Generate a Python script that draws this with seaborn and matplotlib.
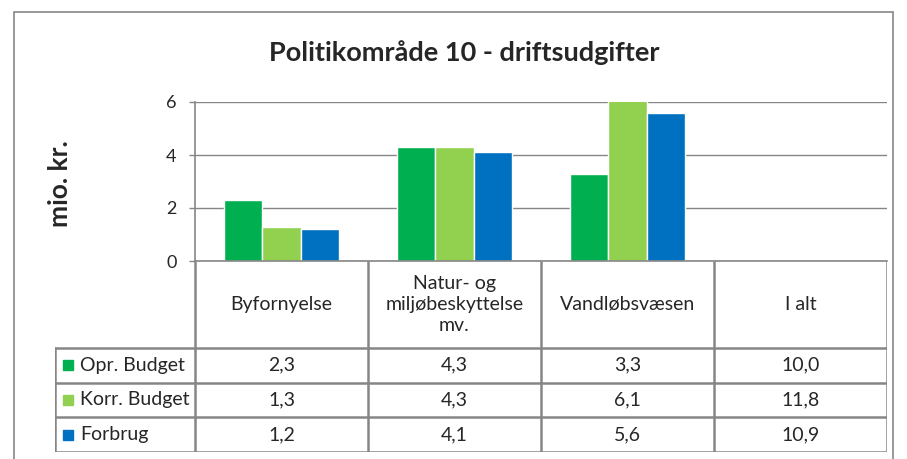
import pandas as pd
import seaborn as sns
from matplotlib import pyplot as plt
from matplotlib.patches import Rectangle

# Data
categories = ['Byfornyelse', 'Natur- og\nmiljøbeskyttelse\nmv.', 'Vandløbsvæsen', 'I alt']
series = ['Opr. Budget', 'Korr. Budget', 'Forbrug']
opr_budget = [2.3, 4.3, 3.3, 10.0]
korr_budget = [1.3, 4.3, 6.1, 11.8]
forbrug = [1.2, 4.1, 5.6, 10.9]
colors = ['#00B050', '#92D050', '#0070C0']
y_ticks = [0, 2, 4, 6]

values = [opr_budget, korr_budget, forbrug]
rows = []
for s, vals in zip(series, values):
    for c, v in zip(categories[:3], vals[:3]):   # 'I alt' only appears in the table
        rows.append({'category': c, 'series': s, 'value': v})
df = pd.DataFrame(rows)

sns.set_style('white')
plt.rcParams['font.family'] = ['Lato', 'DejaVu Sans']
line_col = '#868686'

W, H = 907, 459
fig = plt.figure(figsize=(W / 100, H / 100), dpi=100)

# outer chart frame
fig.patches.append(Rectangle((14 / W, -0.1), 879 / W, 1.1 - 12 / H, transform=fig.transFigure,
                             fill=False, edgecolor=line_col, linewidth=1.2))

# Chart
ax = fig.add_axes([195 / W, 1 - 261 / H, 692 / W, 159 / H])
sns.barplot(data=df, x='category', y='value', hue='series', order=categories, hue_order=series,
            palette=colors, saturation=1, width=0.665, legend=False, ax=ax)
ax.set_xlim(-0.5, len(categories) - 0.5)
ax.set_ylim(0, 6)
ax.set_yticks(y_ticks)
ax.set_yticklabels([str(t) for t in y_ticks], fontsize=13)
ax.set_xticks([])
ax.set_xlabel('')
ax.set_ylabel('')
ax.yaxis.grid(True, color=line_col, linewidth=1)
ax.set_axisbelow(True)
ax.tick_params(axis='y', length=4.3, width=1, color=line_col, left=True, pad=9)
for side in ['top', 'right']:
    ax.spines[side].set_visible(False)
for side in ['left', 'bottom']:
    ax.spines[side].set_color(line_col)
    ax.spines[side].set_linewidth(1.2)

fig.text(464 / W, 1 - 53 / H, 'Politikområde 10 - driftsudgifter', fontsize=19.5,
         fontweight='bold', ha='center', va='center')
fig.text(60 / W, 1 - 184 / H, 'mio. kr.', fontsize=19, fontweight='bold',
         rotation=90, ha='center', va='center')

# Data table
tab = fig.add_axes([55 / W, 1 - 452 / H, 832 / W, 191 / H])
tab.axis('off')
left = -0.5 - 140 / 173
tab.set_xlim(left, len(categories) - 0.5)
header_h = 87
row_h = (191 - header_h) / len(series)
tab.set_ylim(191, 0)

for i in range(len(categories) + 1):
    tab.plot([i - 0.5, i - 0.5], [0, 191], color=line_col, lw=1.8, solid_capstyle='butt')
tab.plot([left, left], [header_h, 191], color=line_col, lw=1.8)
for r in range(len(series) + 1):
    y = header_h + r * row_h
    tab.plot([left, len(categories) - 0.5], [y, y], color=line_col, lw=1.8)

for i, c in enumerate(categories):
    tab.text(i, header_h / 2, c, ha='center', va='center', fontsize=14, linespacing=1.3)

for r, (s, vals, col) in enumerate(zip(series, values, colors)):
    yc = header_h + (r + 0.5) * row_h
    tab.plot([left + 13 / 173], [yc], marker='s', markersize=7.5, color=col, clip_on=False)
    tab.text(left + 25 / 173, yc, s, ha='left', va='center', fontsize=14)
    for i, v in enumerate(vals):
        tab.text(i, yc, f'{v:.1f}'.replace('.', ','), ha='center', va='center', fontsize=14)

plt.savefig('out.png', dpi=100)
